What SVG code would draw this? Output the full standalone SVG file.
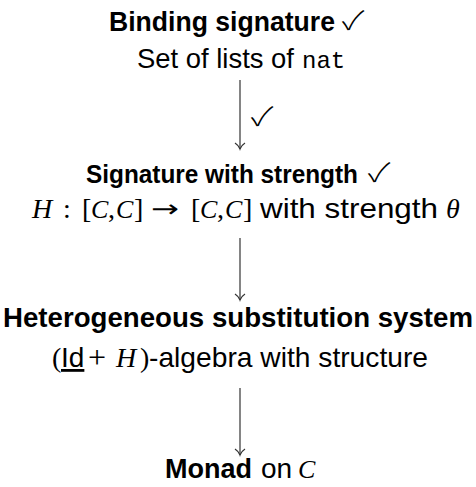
<svg xmlns="http://www.w3.org/2000/svg" width="476" height="487" viewBox="0 0 476 487">
<style>
  text { fill: #000; font-size: 28px; }
  .b { font-family: "Liberation Sans", Arial, sans-serif; font-weight: bold; font-size: 27px; }
  .r { font-family: "Liberation Sans", Arial, sans-serif; }
  .m { font-family: "Liberation Mono", "Courier New", monospace; font-size: 24px; }
  .mi { font-family: "Liberation Serif", "Times New Roman", serif; font-style: italic; }
  .cal { font-family: "Liberation Serif", "Times New Roman", serif; font-style: italic; font-size: 26px; }
  .mr { font-family: "Liberation Serif", "Times New Roman", serif; }
  .ar { font-family: "DejaVu Sans", sans-serif; font-size: 24px; }
  .ck { font-family: "Noto Sans CJK JP", "DejaVu Sans", sans-serif; font-size: 26px; font-weight: 300; }
  .arr { stroke: #333; stroke-width: 1.2; fill: none; }
</style>
<defs>
  <marker id="head" viewBox="-8 -6 10 12" markerWidth="10" markerHeight="12" refX="0" refY="0" orient="auto" markerUnits="userSpaceOnUse">
    <path d="M-6,-5 C-4,-2 -1.5,-0.5 0,0 C-1.5,0.5 -4,2 -6,5" stroke="#333" stroke-width="1.2" fill="none"/>
  </marker>
</defs>
<rect width="476" height="487" fill="#fff"/>

<g id="binding">
  <text class="b" x="109" y="31" textLength="226" lengthAdjust="spacingAndGlyphs">Binding signature</text>
  <text class="ck" transform="translate(342,30) scale(1.3,1)">✓</text>
  <text class="r" x="137" y="68" textLength="157" lengthAdjust="spacingAndGlyphs">Set of lists of</text>
  <text class="m" x="302" y="68">nat</text>
</g>

<g id="strength">
  <text class="b" x="86" y="183" font-size="25" style="font-size:25px" textLength="272" lengthAdjust="spacingAndGlyphs">Signature with strength</text>
  <text class="ck" transform="translate(368,182) scale(1.3,1)">✓</text>
  <text class="mi" x="32" y="218">H</text>
  <text class="mr" x="63" y="218">:</text>
  <text class="mr" x="82" y="218">[</text>
  <text class="cal" x="91" y="218">C</text>
  <text class="mr" x="108" y="218">,</text>
  <text class="cal" x="116" y="218">C</text>
  <text class="mr" x="134" y="218">]</text>
  <text class="ar" x="151" y="217" textLength="28" lengthAdjust="spacingAndGlyphs">→</text>
  <text class="mr" x="191" y="218">[</text>
  <text class="cal" x="200" y="218">C</text>
  <text class="mr" x="217" y="218">,</text>
  <text class="cal" x="225" y="218">C</text>
  <text class="mr" x="243" y="218">]</text>
  <text class="r" x="260" y="218" textLength="178" lengthAdjust="spacingAndGlyphs">with strength</text>
  <text class="mi" x="446" y="218">θ</text>
</g>

<g id="hss">
  <text class="b" x="3" y="327" textLength="470" lengthAdjust="spacingAndGlyphs">Heterogeneous substitution system</text>
  <text class="mr" x="52" y="367">(</text>
  <text class="r" x="61" y="367" text-decoration="underline">Id</text>
  <text class="mr" x="88" y="368" font-size="32" style="font-size:32px">+</text>
  <text class="mi" x="116" y="367">H</text>
  <text class="mr" x="140" y="367">)</text>
  <text class="r" x="149" y="367" textLength="279" lengthAdjust="spacingAndGlyphs">-algebra with structure</text>
</g>

<g id="monad">
  <text class="b" x="165" y="478">Monad</text>
  <text class="r" x="261" y="478">on</text>
  <text class="cal" x="298" y="478">C</text>
</g>

<g id="connectors">
  <line class="arr" x1="240" y1="80" x2="240" y2="149" marker-end="url(#head)"/>
  <text class="ck" transform="translate(251,126) scale(1.3,1)">✓</text>
  <line class="arr" x1="240" y1="238" x2="240" y2="300" marker-end="url(#head)"/>
  <line class="arr" x1="240" y1="388" x2="240" y2="455" marker-end="url(#head)"/>
</g>
</svg>
